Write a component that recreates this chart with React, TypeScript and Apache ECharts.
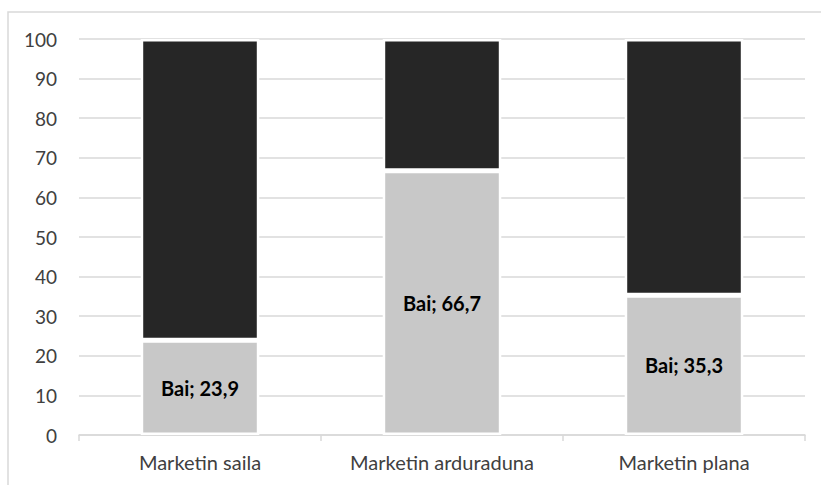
import React, { useEffect, useRef } from "react";
import * as echarts from "echarts";

const categories = ["Marketin saila", "Marketin arduraduna", "Marketin plana"];
const baiValues = [23.9, 66.7, 35.3];
const ezValues = [76.1, 33.3, 64.7];
const seriesNames = ["Bai", "Ez"];

const FONT = "Lato, 'Noto Sans', sans-serif";

export default function App() {
  const ref = useRef<HTMLDivElement>(null);

  useEffect(() => {
    if (!ref.current) return;
    const chart = echarts.init(ref.current, undefined, { renderer: "svg" });
    chart.setOption({
      animation: false,
      backgroundColor: "#ffffff",
      textStyle: { fontFamily: FONT },
      graphic: [
        {
          type: "rect",
          shape: { x: 8, y: 12, width: 830, height: 490 },
          style: { fill: "none", stroke: "#d9d9d9", lineWidth: 1.5 },
          silent: true,
        },
      ],
      grid: { left: 79, right: 16, top: 39, bottom: 50, containLabel: false },
      xAxis: {
        type: "category",
        data: categories,
        axisLine: { lineStyle: { color: "#d9d9d9", width: 1.5 } },
        axisTick: { show: true, length: 6, lineStyle: { color: "#d9d9d9", width: 1.5 } },
        axisLabel: { color: "#404040", fontSize: 20, margin: 17, fontFamily: FONT },
      },
      yAxis: {
        type: "value",
        min: 0,
        max: 100,
        interval: 10,
        axisLine: { show: false },
        axisTick: { show: false },
        splitLine: { lineStyle: { color: "#d9d9d9", width: 1.5 } },
        axisLabel: { color: "#404040", fontSize: 19, margin: 22, fontFamily: FONT },
      },
      series: [
        {
          name: seriesNames[0],
          type: "bar",
          stack: "total",
          barWidth: "49%",
          data: baiValues,
          itemStyle: { color: "#c8c8c8", borderColor: "#ffffff", borderWidth: 2.5 },
          label: {
            show: true,
            position: "inside",
            color: "#000000",
            fontWeight: "bold",
            fontSize: 20,
            fontFamily: FONT,
            formatter: (p: any) =>
              `${p.seriesName}; ${String(p.value).replace(".", ",")}`,
          },
        },
        {
          name: seriesNames[1],
          type: "bar",
          stack: "total",
          barWidth: "49%",
          data: ezValues,
          itemStyle: { color: "#262626", borderColor: "#ffffff", borderWidth: 2.5 },
        },
      ],
    });
    return () => chart.dispose();
  }, []);

  return (
    <div
      ref={ref}
      style={{ position: "fixed", left: 0, top: 0, width: 821, height: 485 }}
    />
  );
}
